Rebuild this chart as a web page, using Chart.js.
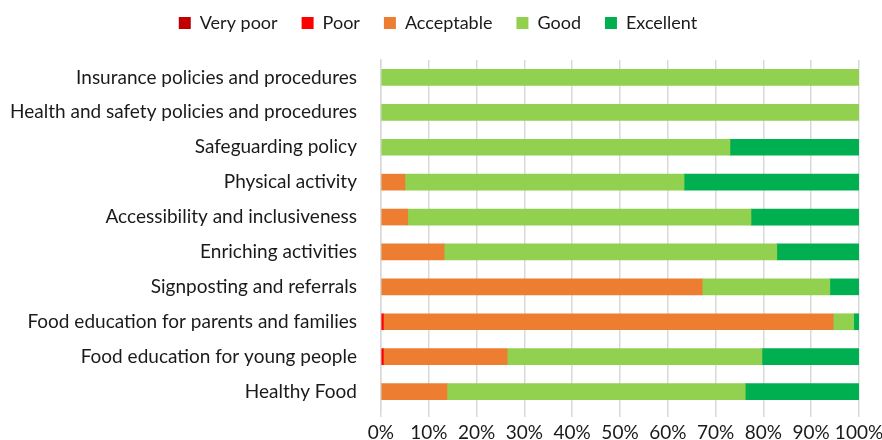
<!DOCTYPE html>
<html>
<head>
<meta charset="utf-8">
<script src="https://cdn.jsdelivr.net/npm/chart.js@4"></script>
<style>
  body { margin: 0; background: #fff; overflow: hidden; }
  #wrap { width: 882px; height: 440px; }
</style>
</head>
<body>
<div id="wrap"><canvas id="myChart" width="882" height="440"></canvas></div>
<script>
const categories = [
    'Insurance policies and procedures',
    'Health and safety policies and procedures',
    'Safeguarding policy',
    'Physical activity',
    'Accessibility and inclusiveness',
    'Enriching activities',
    'Signposting and referrals',
    'Food education for parents and families',
    'Food education for young people',
    'Healthy Food'
];
const veryPoor   = [0, 0, 0, 0, 0, 0, 0, 0, 0, 0];
const poor       = [0, 0, 0, 0, 0, 0, 0, 0.5, 0.5, 0];
const acceptable = [0, 0, 0, 5, 5.6, 13.2, 67.2, 94.1, 25.9, 13.8];
const good       = [100, 100, 73, 58.4, 71.8, 69.6, 26.7, 4.3, 53.3, 62.4];
const excellent  = [0, 0, 27, 36.6, 22.6, 17.2, 6.1, 1.1, 20.3, 23.8];
const tickValues = [0, 10, 20, 30, 40, 50, 60, 70, 80, 90, 100];

const fontFamily = 'Lato, "Open Sans", sans-serif';
const nz = arr => arr.map(v => v || null);

// extra space under the legend
const legendGap = {
    id: 'legendGap',
    beforeInit(chart) {
        const fit = chart.legend.fit;
        chart.legend.fit = function() {
            fit.bind(chart.legend)();
            this.height += 18;
        };
    }
};

const ctx = document.getElementById('myChart').getContext('2d');
const myChart = new Chart(ctx, {
    type: 'bar',
    data: {
        labels: categories,
        datasets: [
            { label: 'Very poor', data: nz(veryPoor), backgroundColor: '#c00000' },
            { label: 'Poor', data: nz(poor), backgroundColor: '#ff0000' },
            { label: 'Acceptable', data: nz(acceptable), backgroundColor: '#ed7d31' },
            { label: 'Good', data: nz(good), backgroundColor: '#92d050' },
            { label: 'Excellent', data: nz(excellent), backgroundColor: '#00b050' }
        ]
    },
    plugins: [legendGap],
    options: {
        indexAxis: 'y',
        responsive: false,
        animation: false,
        layout: { padding: { left: -6, right: 0, top: -10, bottom: -8 } },
        datasets: { bar: { barThickness: 16 } },
        plugins: {
            legend: {
                position: 'top',
                labels: {
                    boxWidth: 12,
                    boxHeight: 12,
                    padding: 24,
                    color: '#1a1a1a',
                    font: { family: fontFamily, size: 18 }
                }
            },
            tooltip: { enabled: false }
        },
        scales: {
            x: {
                stacked: true,
                min: 0,
                max: 100,
                afterBuildTicks: function(axis) {
                    axis.ticks = tickValues.map(v => ({ value: v }));
                },
                afterFit: function(axis) {
                    axis.paddingRight = 23;
                },
                ticks: {
                    color: '#1a1a1a',
                    padding: 6,
                    maxRotation: 0,
                    minRotation: 0,
                    autoSkip: false,
                    font: { family: fontFamily, size: 19, lineHeight: 1 },
                    callback: v => v + '%'
                },
                grid: { color: '#d9d9d9', lineWidth: 1.5, tickLength: 8 },
                border: { display: false }
            },
            y: {
                stacked: true,
                ticks: {
                    color: '#1a1a1a',
                    padding: 16,
                    font: { family: fontFamily, size: 19 }
                },
                grid: { display: false },
                border: { display: true, color: '#d9d9d9', width: 1.5 }
            }
        }
    }
});
</script>
</body>
</html>
